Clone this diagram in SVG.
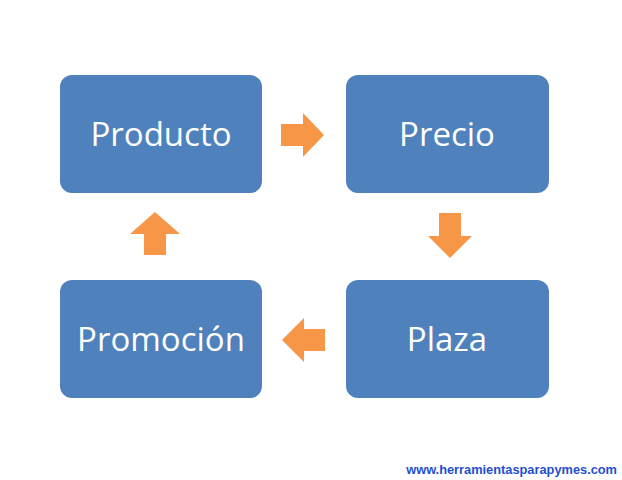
<svg xmlns="http://www.w3.org/2000/svg" width="622" height="480" viewBox="0 0 622 480">
<style>
.box{fill:#4F81BD;}
.lbl{fill:#fff;font-family:"Open Sans","Liberation Sans",sans-serif;font-size:33px;text-anchor:middle;dominant-baseline:central;}
.arr{fill:#F79646;}
</style>
<rect width="622" height="480" fill="#fff"/>
<g id="producto"><rect class="box" x="60" y="75" width="202" height="118" rx="12"/><text class="lbl" x="161" y="133">Producto</text></g>
<g id="precio"><rect class="box" x="346" y="75" width="203" height="118" rx="12"/><text class="lbl" x="447" y="133">Precio</text></g>
<g id="promocion"><rect class="box" x="60" y="280" width="202" height="118" rx="12"/><text class="lbl" x="161" y="338">Promoción</text></g>
<g id="plaza"><rect class="box" x="346" y="280" width="203" height="118" rx="12"/><text class="lbl" x="447" y="338">Plaza</text></g>
<g id="connectors">
<polygon class="arr" points="281,124 303,124 303,113 324,135 303,157 303,146 281,146"/>
<polygon class="arr" points="439,213 461,213 461,236 472,236 450,258 428,236 439,236"/>
<polygon class="arr" points="325,329 304,329 304,318 282,340 304,362 304,351 325,351"/>
<polygon class="arr" points="144,255 166,255 166,234 180,234 155,212 130,234 144,234"/>
</g>
<text x="617" y="474" text-anchor="end" font-family="Liberation Sans,Arial,sans-serif" font-size="12.8" font-weight="bold" fill="#1F4FCF">www.herramientasparapymes.com</text>
</svg>
